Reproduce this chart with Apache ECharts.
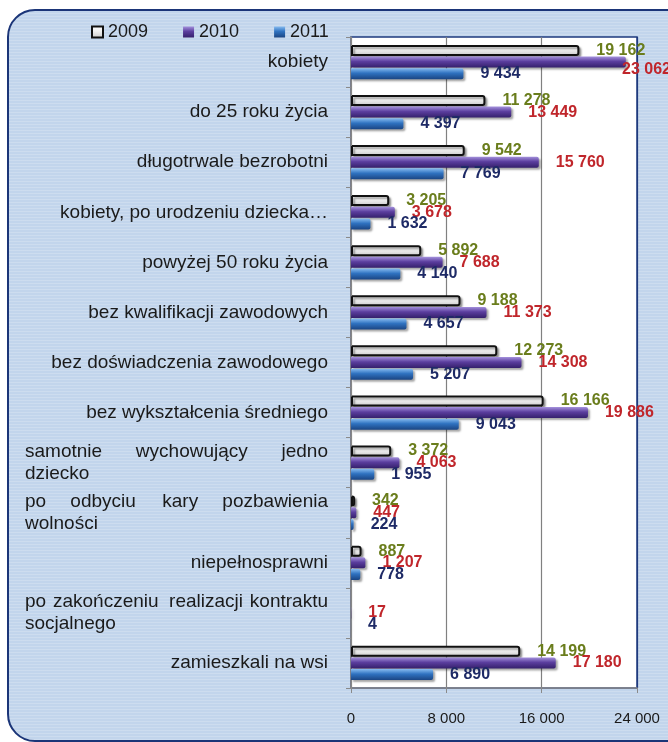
<!DOCTYPE html>
<html>
<head>
<meta charset="utf-8">
<script src="https://cdn.jsdelivr.net/npm/echarts@6/dist/echarts.min.js"></script>
<style>
	html, body { margin: 0; padding: 0; background: #fff; overflow: hidden; }
	#frame {
		position: absolute; left: 7px; top: 9px; width: 700px; height: 729px;
		border: 2px solid #1b3578; border-radius: 28px;
		background-color: #c2d5ec;
		background-image: repeating-linear-gradient(0deg, rgba(255,255,255,0.18) 0px, rgba(255,255,255,0.18) 1px, rgba(0,0,0,0) 1px, rgba(0,0,0,0) 3px);
	}
	#chart { position: absolute; left: 0; top: 0; width: 668px; height: 742px; }
</style>
</head>
<body>
<div id="frame"></div>
<div id="chart"></div>
<script>
	// categories, top to bottom
	var categories = [
		'kobiety',
		'do 25 roku życia',
		'długotrwale bezrobotni',
		'kobiety, po urodzeniu dziecka…',
		'powyżej 50 roku życia',
		'bez kwalifikacji zawodowych',
		'bez doświadczenia zawodowego',
		'bez wykształcenia średniego',
		'samotnie wychowujący jedno\ndziecko',
		'po odbyciu kary pozbawienia\nwolności',
		'niepełnosprawni',
		'po zakończeniu realizacji kontraktu\nsocjalnego',
		'zamieszkali na wsi'
	];
	var years = ['2009', '2010', '2011'];
	var values2009 = [19162, 11278, 9542, 3205, 5892, 9188, 12273, 16166, 3372, 342, 887, null, 14199];
	var values2010 = [23062, 13449, 15760, 3678, 7688, 11373, 14308, 19886, 4063, 447, 1207, 17, 17180];
	var values2011 = [9434, 4397, 7769, 1632, 4140, 4657, 5207, 9043, 1955, 224, 778, 4, 6890];
	var xTicks = [0, 8000, 16000, 24000];

	function fmt(v) {
		return String(v).replace(/\B(?=(\d{3})+(?!\d))/g, ' ');
	}

	// justify first line of wrapped labels: first word left, last right, rest centred
	var midGap = { 'samotnie wychowujący jedno': ' ', 'po odbyciu kary pozbawienia': '     ', 'po zakończeniu realizacji kontraktu': '  ' };
	function catLabel(value) {
		var lines = value.split('\n');
		if (lines.length == 1) return value;
		var w = lines[0].split(' ');
		var first = '{l|' + w[0] + '}';
		var last = '{r|' + w[w.length - 1] + '}';
		var mid = '{c|' + w.slice(1, w.length - 1).join(midGap[lines[0]] || ' ') + '}';
		return first + mid + last + '\n{l|' + lines[1] + '}';
	}

	function grad(top, mid, bottom) {
		return new echarts.graphic.LinearGradient(0, 0, 0, 1, [
			{ offset: 0, color: top },
			{ offset: 0.45, color: mid },
			{ offset: 1, color: bottom }
		]);
	}

	var labelFont = 'Liberation Sans, Arial, sans-serif';
	var catStyle = { fontFamily: labelFont, fontSize: 19, lineHeight: 22, color: '#1a1a1a' };

	function barSeries(name, data, fill, border, labelColor) {
		return {
			name: name,
			type: 'bar',
			data: data,
			barWidth: 11,
			barGap: '6%',
			itemStyle: {
				color: fill,
				borderColor: border,
				borderWidth: border ? 2 : 0,
				borderRadius: [0, 2, 2, 0],
				shadowColor: 'rgba(0,0,0,0.35)',
				shadowBlur: 2,
				shadowOffsetX: 2,
				shadowOffsetY: 2
			},
			label: {
				show: true,
				position: 'right',
				distance: 17,
				color: labelColor,
				fontFamily: labelFont,
				fontSize: 16,
				fontWeight: 'bold',
				formatter: function (p) { return p.value == null ? '' : fmt(p.value); }
			},
			labelLayout: function (params) {
				var r = params.labelRect;
				if (r.x + r.width > 668) {
					return { x: 668 - r.width + 3 };
				}
			}
		};
	}

	var chart = echarts.init(document.getElementById('chart'));
	var option = {
		backgroundColor: 'transparent',
		animation: false,
		legend: {
			data: years,
			icon: 'rect',
			left: 86,
			top: 18,
			itemWidth: 11,
			itemHeight: 11,
			itemGap: 35,
			textStyle: { fontFamily: labelFont, fontSize: 18, color: '#1a1a1a' }
		},
		grid: {
			left: 351,
			top: 37,
			right: 31,
			bottom: 54,
			show: true,
			backgroundColor: '#ffffff',
			borderColor: '#1e3a7e',
			borderWidth: 1.5
		},
		xAxis: {
			type: 'value',
			min: 0,
			max: 24000,
			interval: 8000,
			axisLine: { show: true, lineStyle: { color: '#8a8a8a', width: 1.5 } },
			axisTick: { show: true, length: 5, lineStyle: { color: '#8a8a8a' } },
			splitLine: { show: true, lineStyle: { color: ['#808080', '#808080', '#808080', '#1e3a7e'], width: 1.2 } },
			axisLabel: {
				margin: 23,
				fontFamily: labelFont,
				fontSize: 15,
				color: '#1a1a1a',
				formatter: function (v) { return xTicks.indexOf(v) >= 0 ? fmt(v) : ''; }
			}
		},
		yAxis: {
			type: 'category',
			data: categories,
			inverse: true,
			axisLine: { show: true, lineStyle: { color: '#8a8a8a', width: 1.5 } },
			axisTick: { show: true, length: 5, lineStyle: { color: '#8a8a8a' } },
			axisLabel: {
				margin: 23,
				width: 303,
				overflow: 'none',
				interval: 0,
				fontFamily: labelFont,
				fontSize: 19,
				lineHeight: 22,
				color: '#1a1a1a',
				formatter: catLabel,
				rich: {
					l: Object.assign({ align: 'left' }, catStyle),
					c: Object.assign({ align: 'center' }, catStyle),
					r: Object.assign({ align: 'right' }, catStyle)
				}
			}
		},
		series: [
			barSeries('2009', values2009, grad('#ffffff', '#f0f0f0', '#c8c8c8'), '#111111', '#6a7d1c'),
			barSeries('2010', values2010, grad('#a491dc', '#5b3e9e', '#35206c'), null, '#c0262b'),
			barSeries('2011', values2011, grad('#86bbf0', '#2f72c0', '#1b4583'), null, '#1e2a66')
		]
	};
	chart.setOption(option);
</script>
</body>
</html>
